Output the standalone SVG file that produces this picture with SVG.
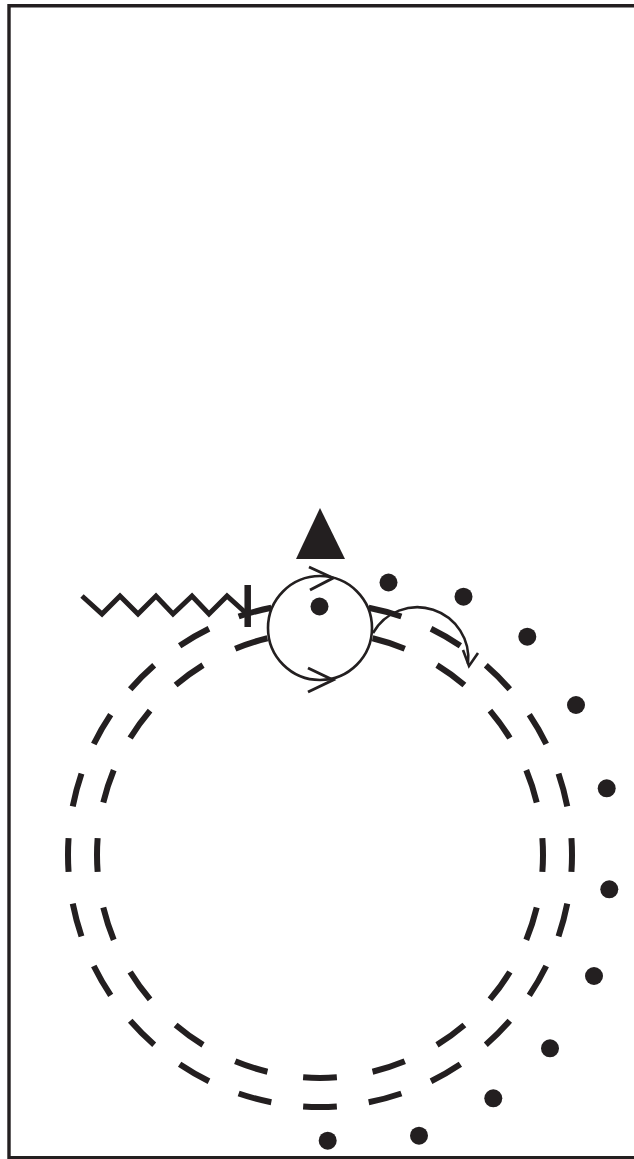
<svg xmlns="http://www.w3.org/2000/svg" width="634" height="1159" viewBox="0 0 634 1159">
  <style>
    .frame { fill: none; stroke: #231f20; stroke-width: 3.4; }
    .ring { fill: none; stroke: #231f20; stroke-width: 6; }
    .thin { fill: none; stroke: #231f20; stroke-width: 2.6; stroke-linecap: butt; stroke-linejoin: miter; }
    .chev { fill: none; stroke: #231f20; stroke-width: 3; stroke-linejoin: miter; }
    .dot { fill: #231f20; }
  </style>
  <rect width="634" height="1159" fill="#ffffff"/>
  <g id="frame">
    <path class="frame" d="M9,1159 V5.7 H634"/>
    <path class="frame" d="M9,1157.8 H634"/>
  </g>
  <g id="rings">
    <circle class="ring" cx="320" cy="855" r="252" pathLength="360" stroke-dasharray="7.7 7.3" stroke-dashoffset="3.85"/>
    <circle class="ring" cx="320" cy="855" r="223" pathLength="360" stroke-dasharray="8.7 9.3" stroke-dashoffset="4.35"/>
  </g>
  <g id="zigzag">
    <polyline fill="none" stroke="#231f20" stroke-width="5" stroke-linejoin="miter" points="82,596 102,614 120,596 138,614 156,596 173,614 192,596 209,614 227,596 247,614"/>
    <line x1="247.7" y1="585" x2="247.7" y2="627" stroke="#231f20" stroke-width="6.5"/>
  </g>
  <g id="player">
    <circle cx="320" cy="628" r="52" fill="#ffffff" stroke="#231f20" stroke-width="2.6"/>
    <circle class="dot" cx="319.5" cy="606.5" r="9"/>
    <polyline class="chev" points="309,567 333,578 310,590"/>
    <polyline class="chev" points="308,668 333,680 308,692"/>
  </g>
  <g id="triangle">
    <polygon points="320,508 345,559 296,559" fill="#231f20"/>
  </g>
  <g id="connectors">
    <path class="thin" d="M373,633 A51,51 0 0 1 468,664"/>
    <polyline class="thin" points="463,650 469,666 478,653"/>
  </g>
  <g id="dots">
    <circle class="dot" cx="388.5" cy="582.5" r="9"/>
    <circle class="dot" cx="463.5" cy="596.7" r="9"/>
    <circle class="dot" cx="527.3" cy="636.7" r="9"/>
    <circle class="dot" cx="576" cy="705" r="9"/>
    <circle class="dot" cx="606.7" cy="788.3" r="9"/>
    <circle class="dot" cx="609.3" cy="889.3" r="9"/>
    <circle class="dot" cx="594" cy="976" r="9"/>
    <circle class="dot" cx="550" cy="1048.3" r="9"/>
    <circle class="dot" cx="493.3" cy="1098.3" r="9"/>
    <circle class="dot" cx="419" cy="1135.7" r="9"/>
    <circle class="dot" cx="327.7" cy="1140.7" r="9"/>
  </g>
</svg>
